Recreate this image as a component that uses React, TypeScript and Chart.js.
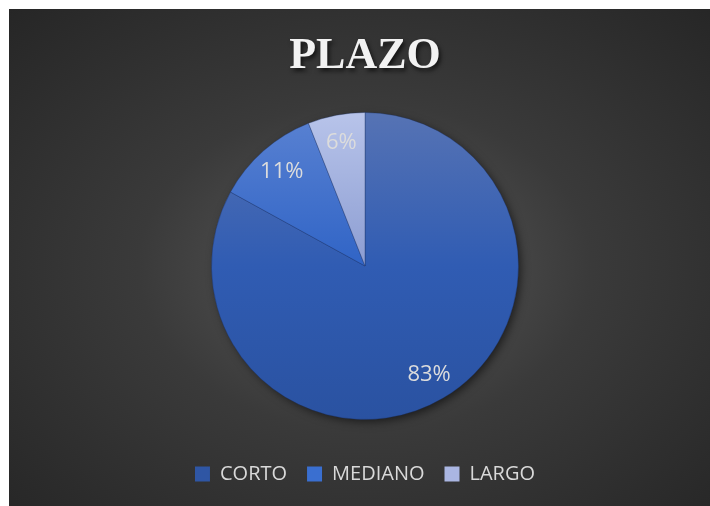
import React, { useEffect, useRef } from "react";
import { Chart, registerables } from "chart.js";

Chart.register(...registerables);

const TITLE = "PLAZO";
const CATEGORIES = ["CORTO", "MEDIANO", "LARGO"];
const VALUES = [83, 11, 6];
const LEGEND_COLORS = ["#2f56a4", "#3a6fd0", "#aab6e2"];
const GRADIENT_STOPS = [
  ["#5673b4", "#305cb3", "#2a52a1"],
  ["#5a82d2", "#3064c6", "#2c5bb8"],
  ["#b8c4ea", "#8c9dd2", "#7085c4"],
];

export default function App() {
  const canvasRef = useRef<HTMLCanvasElement | null>(null);

  useEffect(() => {
    document.documentElement.style.overflow = "hidden";
    document.body.style.overflow = "hidden";
    const canvas = canvasRef.current;
    if (!canvas) return;

    const titlePlugin = {
      id: "customTitle",
      afterDraw(chart: any) {
        const ctx = chart.ctx;
        ctx.save();
        ctx.font = 'bold 44px "Liberation Serif", serif';
        ctx.textAlign = "center";
        ctx.textBaseline = "alphabetic";
        ctx.shadowColor = "rgba(0,0,0,0.65)";
        ctx.shadowBlur = 4;
        ctx.shadowOffsetX = 2;
        ctx.shadowOffsetY = 3;
        ctx.fillStyle = "#f2f2f2";
        ctx.fillText(TITLE, chart.width / 2, 59);
        ctx.restore();
      },
    };

    const shadowPlugin = {
      id: "pieShadow",
      beforeDatasetsDraw(chart: any) {
        const meta = chart.getDatasetMeta(0);
        const arc = meta.data[0];
        if (!arc) return;
        const ctx = chart.ctx;
        ctx.save();
        ctx.shadowColor = "rgba(0,0,0,0.6)";
        ctx.shadowBlur = 10;
        ctx.shadowOffsetX = 3;
        ctx.shadowOffsetY = 3;
        ctx.beginPath();
        ctx.arc(arc.x, arc.y, arc.outerRadius - 1, 0, Math.PI * 2);
        ctx.fillStyle = "#2f56a4";
        ctx.fill();
        ctx.restore();
      },
    };

    const labelPlugin = {
      id: "sliceLabels",
      afterDatasetsDraw(chart: any) {
        const meta = chart.getDatasetMeta(0);
        const ctx = chart.ctx;
        ctx.save();
        ctx.font = '22px "Open Sans", sans-serif';
        ctx.fillStyle = "#dcdcdc";
        ctx.textAlign = "center";
        ctx.textBaseline = "middle";
        meta.data.forEach((arc: any, i: number) => {
          const mid = (arc.startAngle + arc.endAngle) / 2;
          const r = arc.outerRadius * 0.82;
          const x = arc.x + Math.cos(mid) * r;
          const y = arc.y + Math.sin(mid) * r;
          ctx.fillText(VALUES[i] + "%", x, y);
        });
        ctx.restore();
      },
    };

    const bg = (c: any) => {
      const chart = c.chart;
      const area = chart.chartArea;
      const i = c.dataIndex ?? 0;
      if (!area) return LEGEND_COLORS[i];
      const g = chart.ctx.createLinearGradient(0, area.top, 0, area.bottom);
      const s = GRADIENT_STOPS[i];
      g.addColorStop(0, s[0]);
      g.addColorStop(0.5, s[1]);
      g.addColorStop(1, s[2]);
      return g;
    };

    const chart = new Chart(canvas, {
      type: "pie",
      data: {
        labels: CATEGORIES,
        datasets: [
          {
            data: VALUES,
            backgroundColor: bg,
            borderColor: "rgba(25,45,95,0.35)",
            borderWidth: 1,
          },
        ],
      },
      options: {
        responsive: true,
        maintainAspectRatio: false,
        animation: false,
        events: [],
        layout: { padding: { top: 103, bottom: 12, left: 0, right: 0 } },
        plugins: {
          tooltip: { enabled: false },
          title: { display: false },
          legend: {
            display: true,
            position: "bottom",
            title: { display: true, text: "", font: { size: 10 }, padding: { top: 5, bottom: 7 } },
            labels: {
              boxWidth: 15,
              boxHeight: 15,
              padding: 20,
              color: "#d9d9d9",
              font: { family: '"Open Sans", sans-serif', size: 20 },
              generateLabels: () =>
                CATEGORIES.map((t, i) => ({
                  text: t,
                  fillStyle: LEGEND_COLORS[i],
                  strokeStyle: LEGEND_COLORS[i],
                  lineWidth: 0,
                  hidden: false,
                  index: i,
                  fontColor: "#d9d9d9",
                })),
            },
          },
        },
      },
      plugins: [shadowPlugin, labelPlugin, titlePlugin],
    });

    return () => chart.destroy();
  }, []);

  return (
    <div
      style={{
        position: "fixed",
        left: 9,
        top: 9,
        width: 701,
        height: 497,
        overflow: "hidden",
      }}
    >
      <div
        style={{
          position: "relative",
          width: 712,
          height: 497,
          background:
            "radial-gradient(ellipse farthest-corner at 50% 52%, #5a5a5a 0%, #3a3a3a 45%, #262626 100%)",
        }}
      >
        <canvas ref={canvasRef} />
      </div>
    </div>
  );
}
